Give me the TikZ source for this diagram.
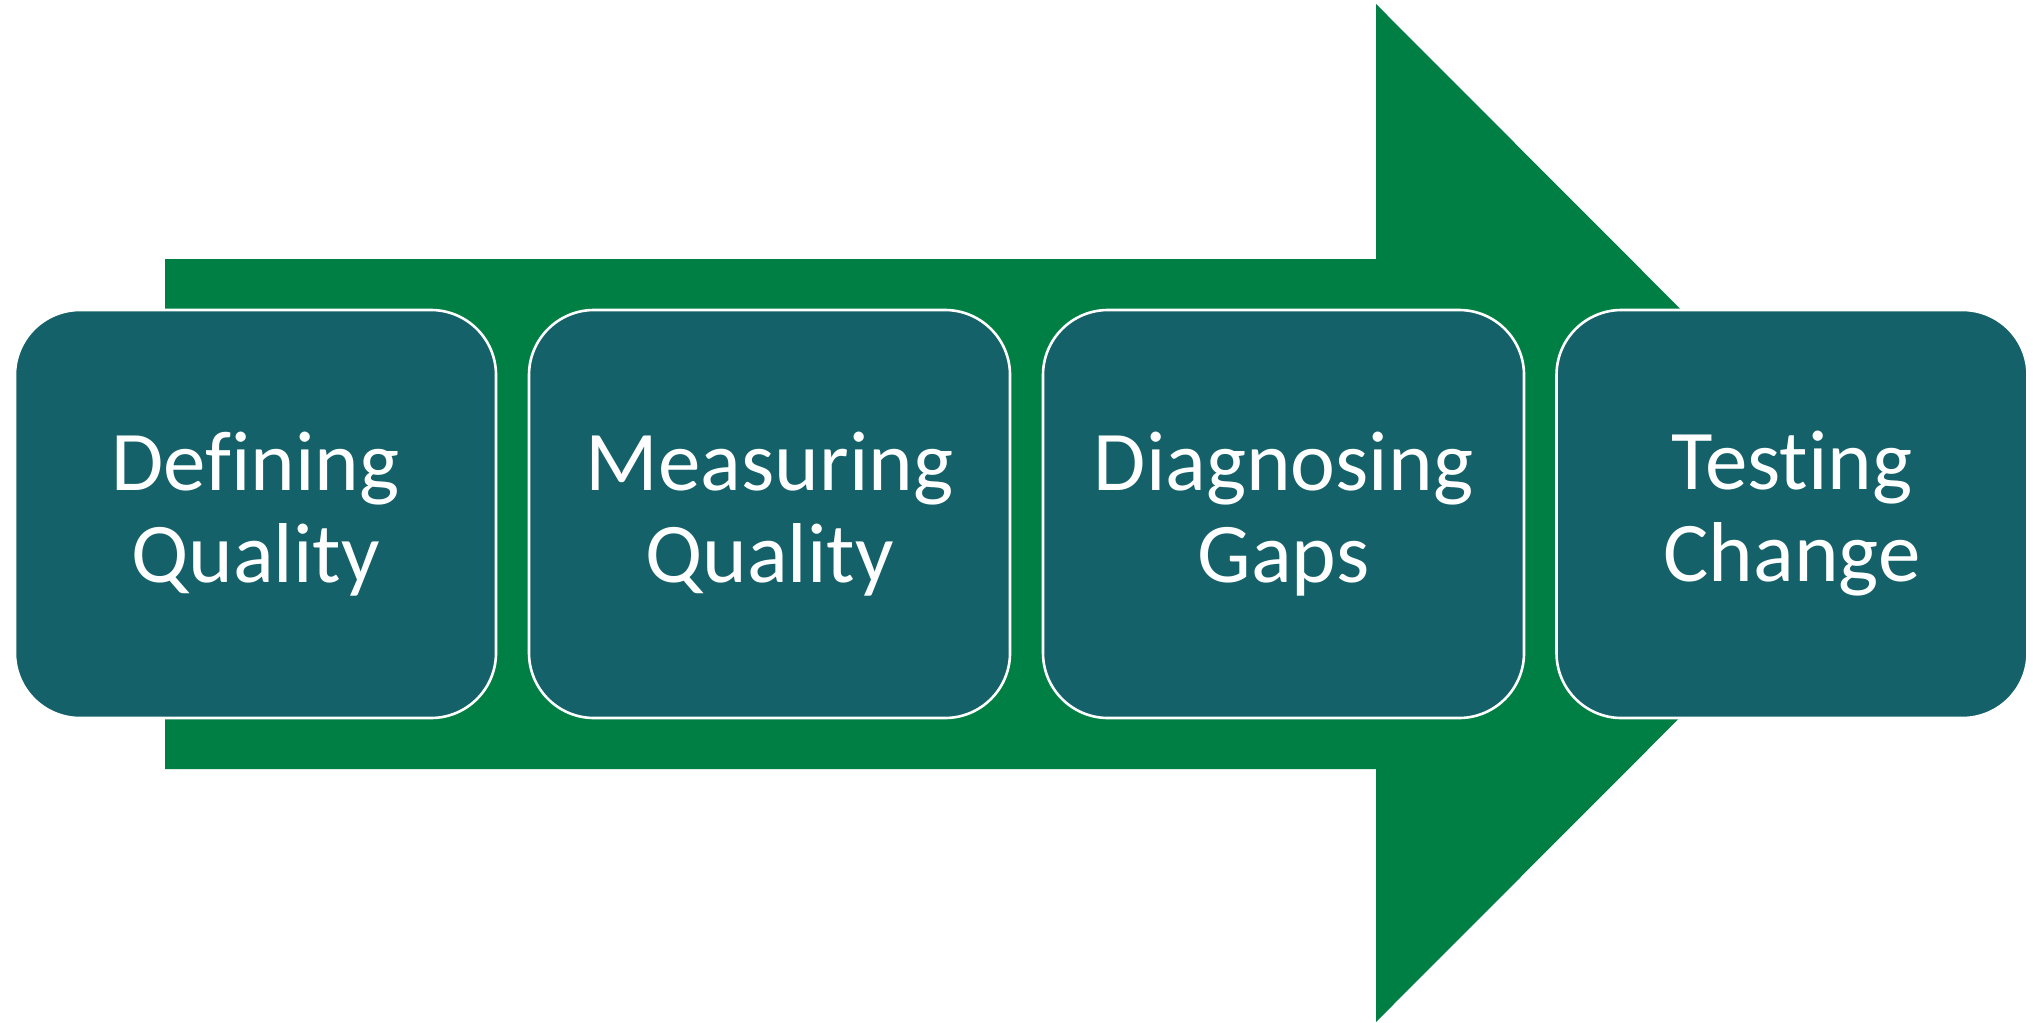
\documentclass[tikz,border=0pt]{standalone}
\usepackage{fontspec}
\setmainfont[Ligatures={NoCommon,NoRequired,NoContextual}]{Carlito}
\definecolor{arrowgreen}{RGB}{0,127,69}
\definecolor{boxteal}{RGB}{20,97,105}
\begin{document}
\begin{tikzpicture}[x=0.5pt,y=-0.5pt,
  stagebox/.style={draw=white, line width=1.3pt, fill=boxteal, rounded corners=32.5pt,
    minimum width=240.5pt, minimum height=204pt, inner sep=0pt, outer sep=0pt,
    align=center, text=white, font=\fontsize{42.5}{46}\selectfont}]
\useasboundingbox (0,0) rectangle (2033,1022);
% big arrow
\fill[arrowgreen] (165,259) -- (1376,259) -- (1376,4) -- (1884,513) -- (1376,1022) -- (1376,769) -- (165,769) -- cycle;
% stage boxes
\node[stagebox] (b1) at (255.5,514) {Defining\\Quality};
\node[stagebox] (b2) at (769.5,514) {Measuring\\Quality};
\node[stagebox] (b3) at (1283.5,514) {Diagnosing\\Gaps};
\node[stagebox, minimum width=235.5pt] (b4) at (1792,514) {Testing\\Change};
\end{tikzpicture}
\end{document}
